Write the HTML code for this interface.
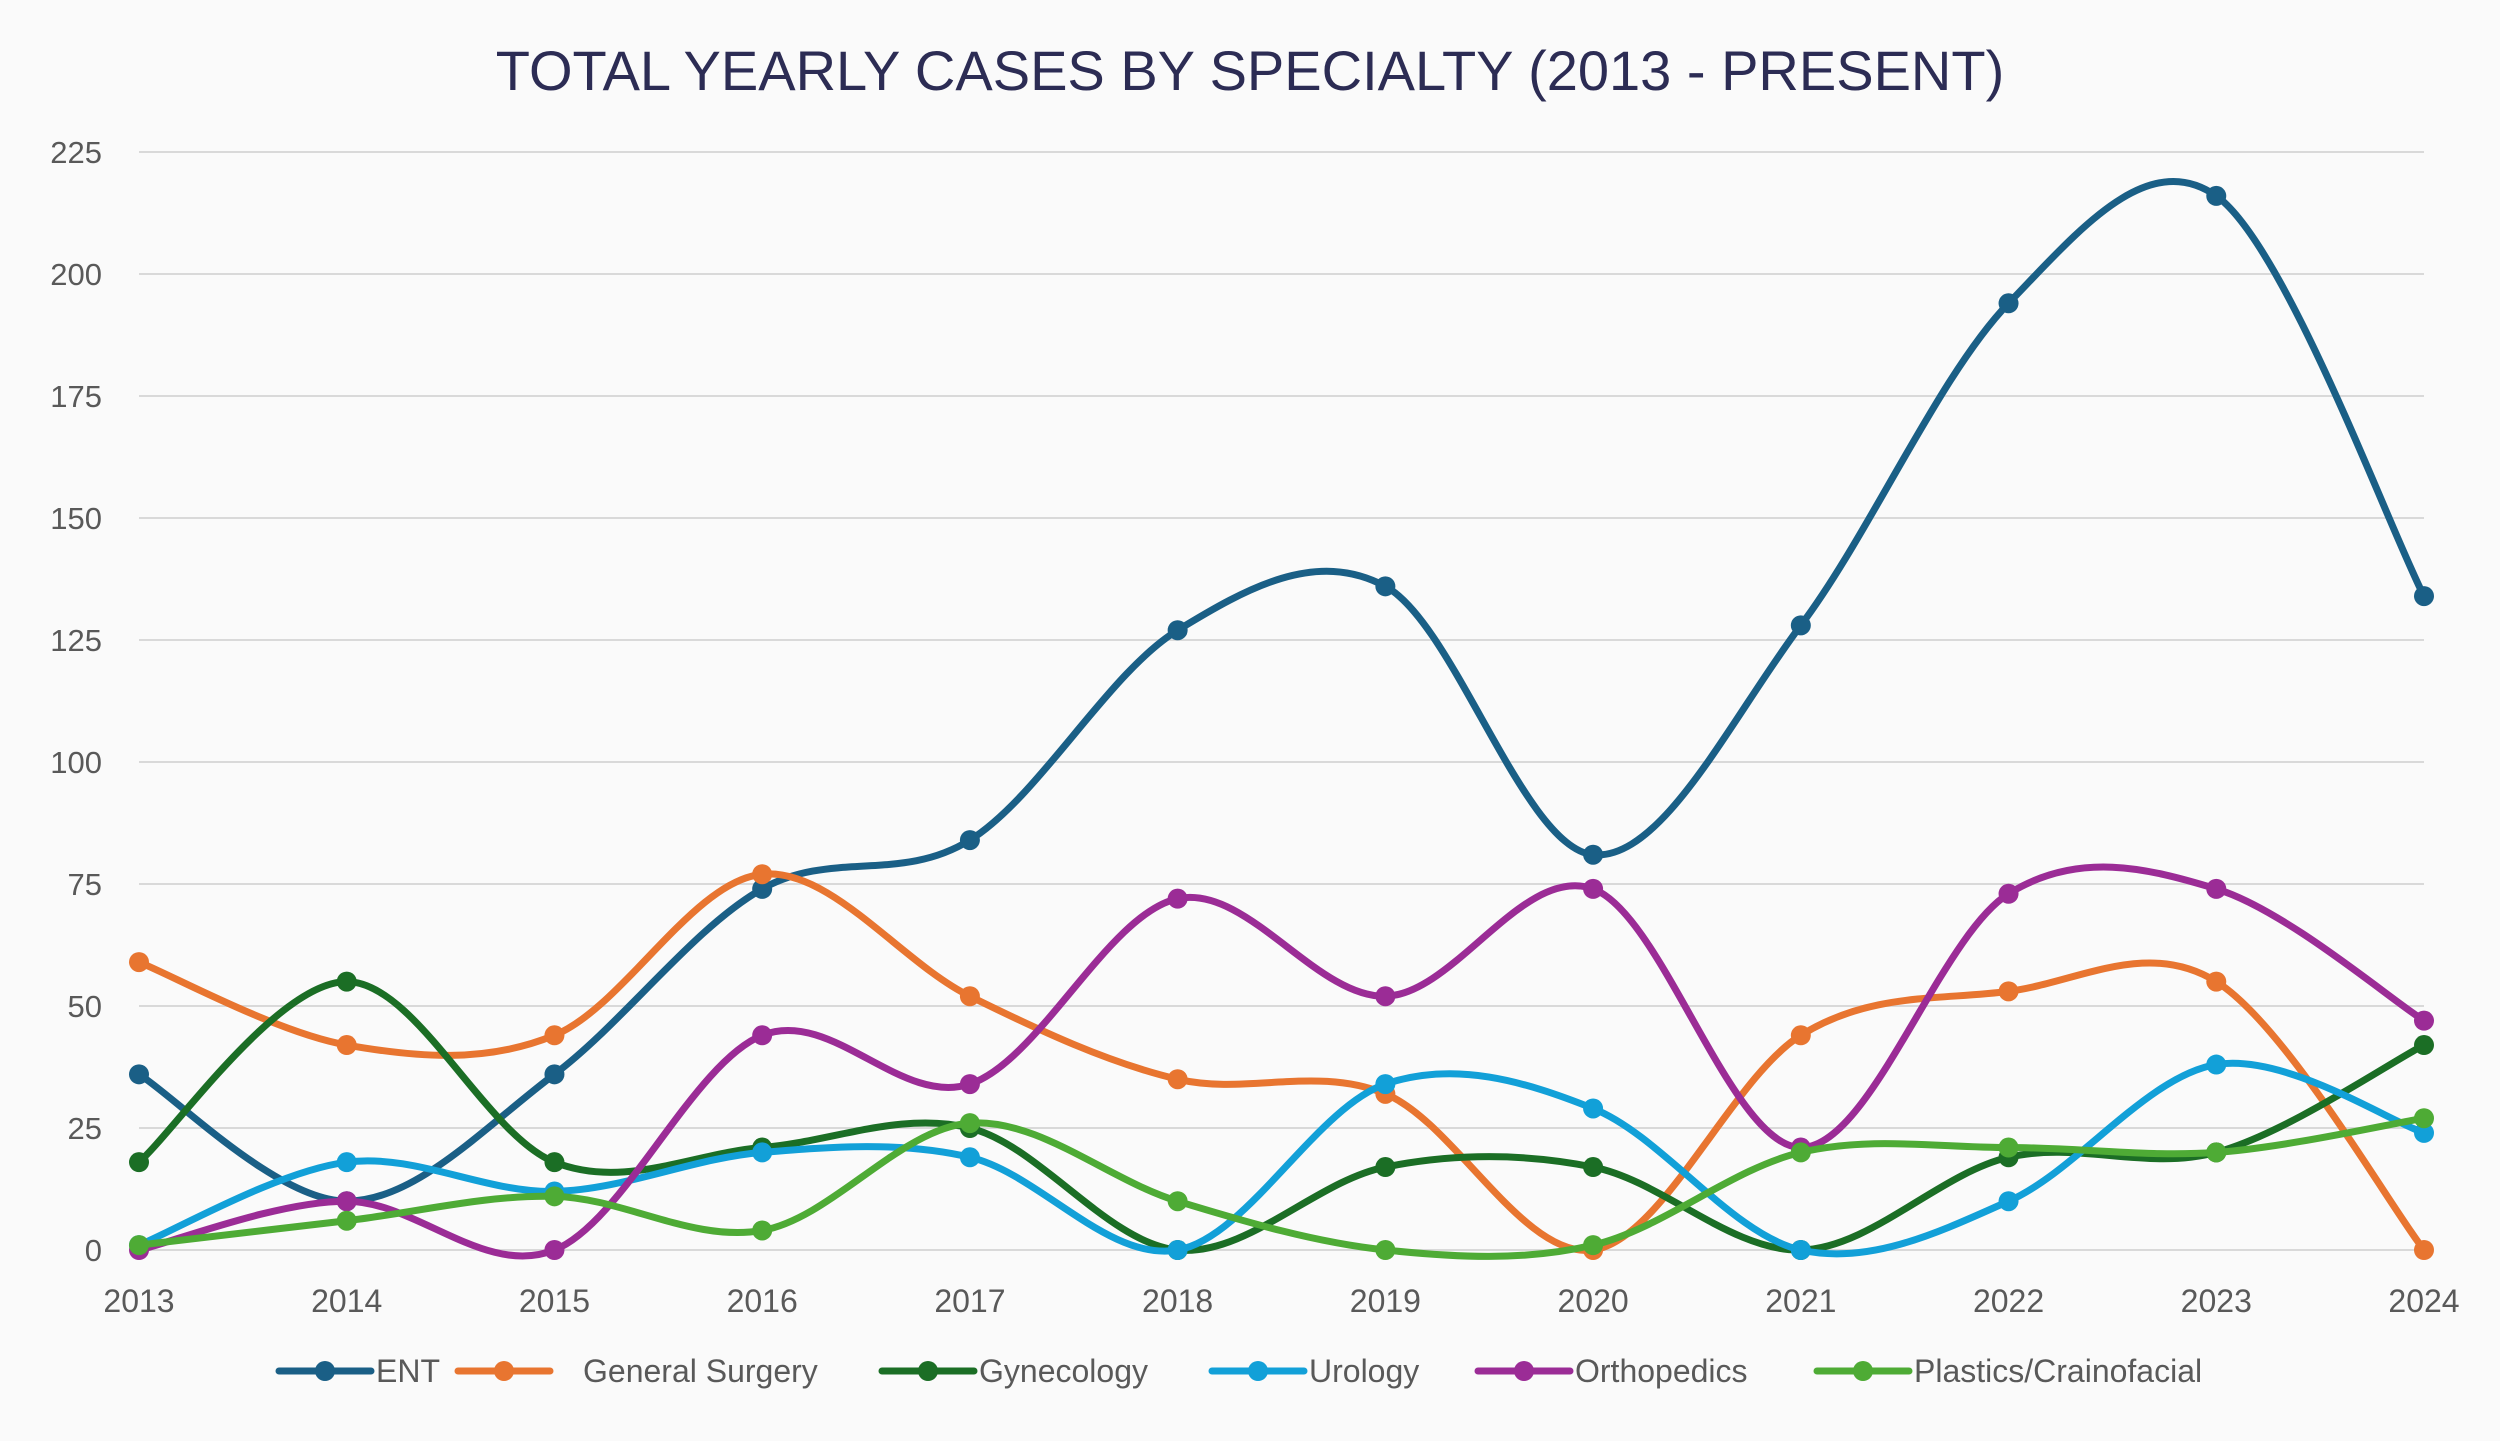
<!DOCTYPE html>
<html><head><meta charset="utf-8"><style>
html,body{margin:0;padding:0;background:#fafafa;}
svg{display:block;font-family:"Liberation Sans",sans-serif;}
</style></head><body>
<svg id="chart" width="2500" height="1441" viewBox="0 0 2500 1441">
<rect x="0" y="0" width="2500" height="1441" fill="#fafafa"/>
<text x="1250" y="90" text-anchor="middle" font-size="56" fill="#2c2c54">TOTAL YEARLY CASES BY SPECIALTY (2013 - PRESENT)</text>
<g id="grid"></g><g id="series"></g><g id="legend"></g>
</svg>
<script>
const years = ["2013","2014","2015","2016","2017","2018","2019","2020","2021","2022","2023","2024"];
const yTicks = [0,25,50,75,100,125,150,175,200,225];
const seriesNames = ["ENT","General Surgery","Gynecology","Urology","Orthopedics","Plastics/Crainofacial"];
const seriesColors = ["#1a5f86","#e87530","#1b6e25","#12a0d8","#9b2c96","#4eab35"];
const entValues = [36,10,36,74,84,127,136,81,128,194,216,134];
const generalSurgeryValues = [59,42,44,77,52,35,32,0,44,53,55,0];
const gynecologyValues = [18,55,18,21,25,0,17,17,0,19,20,42];
const urologyValues = [1,18,12,20,19,0,34,29,0,10,38,24];
const orthopedicsValues = [0,10,0,44,34,72,52,74,21,73,74,47];
const plasticsValues = [1,6,11,4,26,10,0,1,20,21,20,27];
const allValues = [entValues,generalSurgeryValues,gynecologyValues,urologyValues,orthopedicsValues,plasticsValues];

const NS="http://www.w3.org/2000/svg";
const X0=139,X1=2424,Y0=1250,Y1=152,YMAX=225;
function xPos(i){return X0+(X1-X0)*i/(years.length-1);}
function yPos(v){return Y0-(Y0-Y1)*v/YMAX;}
function mk(tag,attrs,parent){const e=document.createElementNS(NS,tag);for(const k in attrs)e.setAttribute(k,attrs[k]);parent.appendChild(e);return e;}

const grid=document.getElementById('grid');
yTicks.forEach(t=>{
  const l=mk('line',{x1:X0,x2:X1,y1:yPos(t),y2:yPos(t),stroke:'#d9d9d9','stroke-width':2},grid);
  
  
  const tx=mk('text',{x:102,y:yPos(t)+11,'text-anchor':'end','font-size':31,fill:'#595959'},grid);
  tx.textContent=t;
  
  
});
years.forEach((yr,i)=>{
  const tx=mk('text',{x:xPos(i),y:1312,'text-anchor':'middle','font-size':32,fill:'#595959'},grid);
  tx.textContent=yr;
  
  
});

const sg=document.getElementById('series');
allValues.forEach((vals,s)=>{
  const pts=vals.map((v,i)=>[xPos(i),yPos(v)]);
  let d='M'+pts[0][0]+','+pts[0][1];
  for(let i=0;i<pts.length-1;i++){
    const p0=pts[Math.max(i-1,0)],p1=pts[i],p2=pts[i+1],p3=pts[Math.min(i+2,pts.length-1)];
    const c1=[p1[0]+(p2[0]-p0[0])/6,p1[1]+(p2[1]-p0[1])/6];
    const c2=[p2[0]-(p3[0]-p1[0])/6,p2[1]-(p3[1]-p1[1])/6];
    d+=' C'+c1+' '+c2+' '+p2;
  }
  const g=mk('g',{},sg);
  
  
  const path=mk('path',{d:d,fill:'none',stroke:seriesColors[s],'stroke-width':7,'stroke-linecap':'round'},g);
  
  
  pts.forEach((p,i)=>{
    const c=mk('circle',{cx:p[0],cy:p[1],r:10,fill:seriesColors[s]},g);
    
    
  });
});

const lg=document.getElementById('legend');
const legendX=[279,458,882,1212,1478,1817];
seriesNames.forEach((n,s)=>{
  const x=legendX[s],y=1371;
  const g=mk('g',{},lg);
  
  
  mk('line',{x1:x,x2:x+92,y1:y,y2:y,stroke:seriesColors[s],'stroke-width':7,'stroke-linecap':'round'},g);
  mk('circle',{cx:x+46,cy:y,r:10,fill:seriesColors[s]},g);
  const t=mk('text',{x:x+(s===1?125:97),y:y+11,'font-size':32,fill:'#595959'},g);
  t.textContent=n;
});
</script>
</body></html>
